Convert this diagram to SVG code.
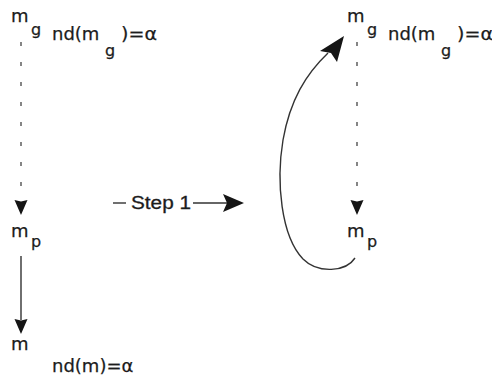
<svg xmlns="http://www.w3.org/2000/svg" width="492" height="378" viewBox="0 0 492 378">
  <style>
    .t { font-family: "DejaVu Sans", "Liberation Sans", sans-serif; font-size: 18px; fill: #1c1c1c; stroke: #1c1c1c; stroke-width: 0.25; }
    .s { font-family: "DejaVu Sans", "Liberation Sans", sans-serif; font-size: 16px; fill: #1c1c1c; stroke: #1c1c1c; stroke-width: 0.25; }
    .lbl { font-family: "Liberation Sans", "DejaVu Sans", sans-serif; font-size: 18px; fill: #1c1c1c; stroke: #1c1c1c; stroke-width: 0.3; }
    .dot { stroke: #444; stroke-width: 1.3; fill: none; stroke-dasharray: 4 16; }
    .ln { stroke: #333; stroke-width: 1.4; fill: none; }
    .head { fill: #151515; }
  </style>
  <defs>
    <!-- solid downward arrowhead, tip at (0,15) -->
    <path id="down" d="M-6.5,0 L0,1.5 L6.5,0 L0,15 Z"/>
  </defs>
  <rect width="492" height="378" fill="#ffffff"/>

  <!-- left column: m_g -->
  <g id="left-mg">
    <text class="t" x="11" y="22">m</text>
    <text class="s" x="31" y="35">g</text>
    <text class="t" x="52" y="40">nd(m</text>
    <text class="s" x="105" y="56">g</text>
    <text class="t" x="121" y="40" textLength="36" lengthAdjust="spacingAndGlyphs">)=α</text>
  </g>
  <!-- left column: m_p -->
  <g id="left-mp">
    <text class="t" x="11" y="237">m</text>
    <text class="s" x="31" y="247">p</text>
  </g>
  <!-- left column: m -->
  <g id="left-m">
    <text class="t" x="11" y="350">m</text>
    <text class="t" x="52" y="372">nd(m)=α</text>
  </g>

  <!-- right column: m_g -->
  <g id="right-mg">
    <text class="t" x="347" y="22">m</text>
    <text class="s" x="367" y="35">g</text>
    <text class="t" x="388" y="40">nd(m</text>
    <text class="s" x="441" y="56">g</text>
    <text class="t" x="457" y="40" textLength="36" lengthAdjust="spacingAndGlyphs">)=α</text>
  </g>
  <!-- right column: m_p -->
  <g id="right-mp">
    <text class="t" x="347" y="237">m</text>
    <text class="s" x="367" y="247">p</text>
  </g>

  <!-- step label -->
  <g id="step1">
    <line class="ln" x1="113" y1="203" x2="126" y2="203" stroke-width="1.8"/>
    <text class="lbl" x="131" y="209" textLength="60" lengthAdjust="spacingAndGlyphs">Step 1</text>
    <line class="ln" x1="193" y1="203" x2="228" y2="203" stroke-width="1.8"/>
    <path class="head" d="M244,203 L223,194 L227,203 L223,212 Z"/>
  </g>

  <!-- connectors -->
  <g id="connectors">
    <line class="dot" x1="21" y1="42" x2="21" y2="200"/>
    <use href="#down" class="head" x="21" y="200"/>
    <line class="ln" x1="21" y1="256" x2="21" y2="320"/>
    <use href="#down" class="head" x="21" y="319"/>

    <line class="dot" x1="357" y1="42" x2="357" y2="200"/>
    <use href="#down" class="head" x="357" y="200"/>

    <path class="ln" d="M355,258 C346,272 318,274 303,259 C281,236 276,182 283,140 C290,100 306,74 328,53"/>
    <path class="head" d="M344,36 L337,62 L331,53 L320,51 Z"/>
  </g>
</svg>
